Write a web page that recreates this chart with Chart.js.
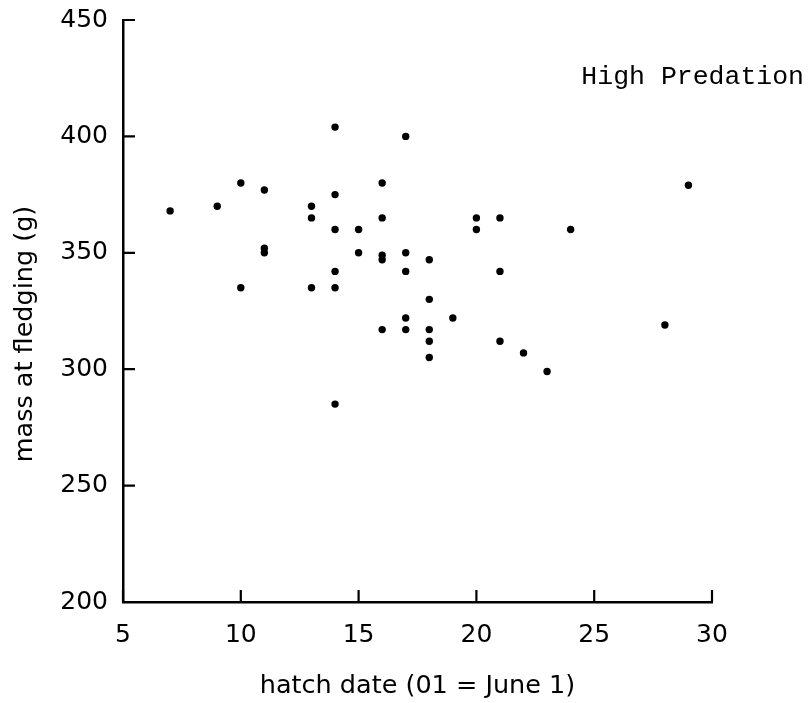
<!DOCTYPE html>
<html>
<head>
<meta charset="utf-8">
<script src="https://cdn.jsdelivr.net/npm/chart.js@4/dist/chart.umd.min.js"></script>
<style>
  html, body { margin: 0; padding: 0; background: #fff; }
  #wrap { width: 810px; height: 703px; position: relative; }
</style>
</head>
<body>
<div id="wrap"><canvas id="massChart"></canvas></div>
<script>
// hatch date (day, 01 = June 1) and mass at fledging (g), one entry per nest
const hatchDates = [7, 9, 10, 10, 11, 11, 11, 13, 13, 13, 14, 14, 14, 14, 14, 14,
    15, 15, 16, 16, 16, 16, 16, 17, 17, 17, 17, 17, 18, 18, 18, 18, 18, 19,
    20, 20, 21, 21, 21, 22, 23, 24, 28, 29];
const fledgeMass = [368, 370, 380, 335, 377, 350, 352, 370, 365, 335, 404, 375, 360, 342, 335, 285,
    360, 350, 380, 365, 347, 349, 317, 400, 350, 342, 322, 317, 347, 330, 317, 312, 305, 322,
    365, 360, 365, 342, 312, 307, 299, 360, 319, 379];

const xTicks = [5, 10, 15, 20, 25, 30];
const yTicks = [200, 250, 300, 350, 400, 450];
const panelLabel = 'High Predation';
const yTitle = 'mass at fledging (g)';

const points = hatchDates.map((d, i) => ({ x: d, y: fledgeMass[i] }));

// tick marks point inward, into the plot
const inwardTicks = {
    id: 'inwardTicks',
    afterDatasetsDraw(chart) {
        const { ctx, chartArea, scales } = chart;
        const len = 12;
        ctx.save();
        ctx.strokeStyle = '#000';
        ctx.lineWidth = 2.2;
        ctx.beginPath();
        xTicks.forEach(v => {
            const px = scales.x.getPixelForValue(v);
            ctx.moveTo(px, chartArea.bottom);
            ctx.lineTo(px, chartArea.bottom - len);
        });
        yTicks.forEach(v => {
            const py = scales.y.getPixelForValue(v);
            ctx.moveTo(chartArea.left, py);
            ctx.lineTo(chartArea.left + len, py);
        });
        ctx.stroke();
        ctx.restore();
    }
};

// panel label top right, plus the rotated y axis title (sits a bit below centre)
const textPlugin = {
    id: 'extraText',
    afterDraw(chart) {
        const ctx = chart.ctx;
        ctx.save();
        ctx.fillStyle = '#000';
        ctx.font = '26.5px "Liberation Mono", monospace';
        ctx.textAlign = 'right';
        ctx.textBaseline = 'alphabetic';
        ctx.fillText(panelLabel, 804, 84);

        ctx.translate(25, 334);
        ctx.rotate(-Math.PI / 2);
        ctx.font = '25.5px "DejaVu Sans", sans-serif';
        ctx.textAlign = 'center';
        ctx.textBaseline = 'middle';
        ctx.fillText(yTitle, 0, 0);
        ctx.restore();
    }
};

const tickFont = { family: '"DejaVu Sans", sans-serif', size: 25 };
const titleFont = { family: '"DejaVu Sans", sans-serif', size: 25.5 };

new Chart(document.getElementById('massChart'), {
    type: 'scatter',
    data: {
        datasets: [{
            data: points,
            backgroundColor: '#000',
            borderColor: '#000',
            pointRadius: 3.7,
            pointHoverRadius: 3.7,
            borderWidth: 0
        }]
    },
    options: {
        responsive: true,
        maintainAspectRatio: false,
        animation: false,
        layout: { padding: { left: 0, right: 98, top: 20, bottom: 0 } },
        plugins: {
            legend: { display: false },
            tooltip: { enabled: false }
        },
        scales: {
            x: {
                type: 'linear',
                min: 5,
                max: 30,
                afterBuildTicks(scale) {
                    scale.ticks = xTicks.map(v => ({ value: v }));
                },
                afterFit(scale) {
                    scale.height = 101;
                    scale.paddingLeft = 0;
                    scale.paddingRight = 0;
                },
                border: { display: true, color: '#000', width: 2.5 },
                grid: { drawOnChartArea: false, drawTicks: false },
                ticks: {
                    color: '#000',
                    font: tickFont,
                    padding: 18,
                    maxRotation: 0
                },
                title: {
                    display: true,
                    text: 'hatch date (01 = June 1)',
                    color: '#000',
                    font: titleFont,
                    padding: { top: 0, bottom: 1 }
                }
            },
            y: {
                type: 'linear',
                min: 200,
                max: 450,
                afterBuildTicks(scale) {
                    scale.ticks = yTicks.map(v => ({ value: v }));
                },
                afterFit(scale) {
                    scale.width = 123;
                    scale.paddingTop = 0;
                    scale.paddingBottom = 0;
                },
                border: { display: true, color: '#000', width: 2.5 },
                grid: { drawOnChartArea: false, drawTicks: false },
                ticks: {
                    color: '#000',
                    font: tickFont,
                    padding: 15
                },
                title: { display: false }
            }
        }
    },
    plugins: [inwardTicks, textPlugin]
});
</script>
</body>
</html>
